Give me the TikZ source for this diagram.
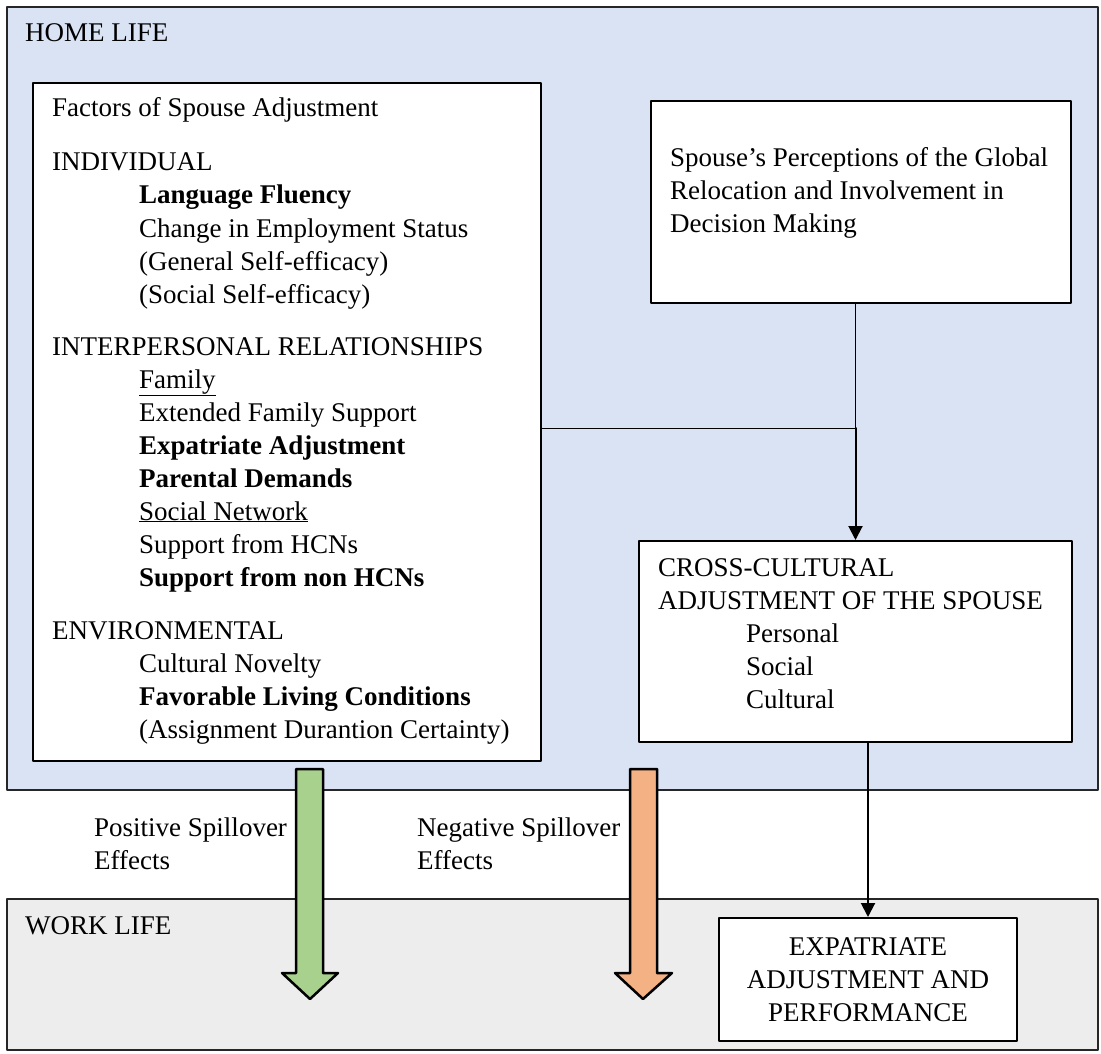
\documentclass[tikz,border=0pt]{standalone}
\usepackage{fontspec}
\setmainfont{Liberation Serif}
\usetikzlibrary{arrows.meta}
\definecolor{homeblue}{HTML}{DAE3F3}
\definecolor{workgray}{HTML}{EDEDED}
\definecolor{posgreen}{HTML}{A9D18E}
\definecolor{negorange}{HTML}{F4B183}

\begin{document}
\begin{tikzpicture}[x=1pt,y=-1pt,line cap=round,line join=round,
	>={Triangle[width=14pt,length=14pt]},
	font=\fontsize{27}{33}\selectfont,
	box/.style={draw,line width=2pt,fill=white,anchor=north west,inner sep=0pt},
	txt/.style={anchor=base west,inner sep=0pt},
	bigarrow/.style={draw,line width=2.5pt}]
	\useasboundingbox (0,0) rectangle (1101,1054);
	% home and work areas
	\path[fill=homeblue,draw=black!85,line width=1.5pt] (7,7) rectangle (1098,790);
	\path[fill=workgray,draw=black!85,line width=1.5pt] (7,899) rectangle (1098,1050);
	\node[txt] (home) at (25,42) {HOME LIFE};
	\node[txt] (work) at (25,934) {WORK LIFE};
	% boxes
	\node[box,minimum width=508,minimum height=678] (factors) at (32,82) {};
	\node[box,minimum width=420,minimum height=202] (persp) at (650,100) {};
	\node[box,minimum width=433,minimum height=201] (cross) at (638,540) {};
	\node[box,minimum width=298,minimum height=123] (expat) at (718,917) {};
	% factors text
	\node[txt] (f0) at (52,117) {Factors of Spouse Adjustment};
	\node[txt] (f1) at (52,171) {INDIVIDUAL};
	\node[txt] (f2) at (139,204) {\textbf{Language Fluency}};
	\node[txt] (f3) at (139,237) {Change in Employment Status};
	\node[txt] (f4) at (139,270) {(General Self-efficacy)};
	\node[txt] (f5) at (139,303) {(Social Self-efficacy)};
	\node[txt] (f6) at (52,355) {INTERPERSONAL RELATIONSHIPS};
	\node[txt] (f7) at (139,388) {\underline{Family}};
	\node[txt] (f8) at (139,421) {Extended Family Support};
	\node[txt] (f9) at (139,454) {\textbf{Expatriate Adjustment}};
	\node[txt] (f10) at (139,487) {\textbf{Parental Demands}};
	\node[txt] (f11) at (139,520) {\underline{Social Network}};
	\node[txt] (f12) at (139,553) {Support from HCNs};
	\node[txt] (f13) at (139,586) {\textbf{Support from non HCNs}};
	\node[txt] (f14) at (52,639) {ENVIRONMENTAL};
	\node[txt] (f15) at (139,672) {Cultural Novelty};
	\node[txt] (f16) at (139,705) {\textbf{Favorable Living Conditions}};
	\node[txt] (f17) at (139,738) {(Assignment Durantion Certainty)};
	% perception text
	\node[txt] (p1) at (670,167) {Spouse’s Perceptions of the Global};
	\node[txt] (p2) at (670,200) {Relocation and Involvement in};
	\node[txt] (p3) at (670,233) {Decision Making};
	% cross-cultural text
	\node[txt] (c1) at (658,576) {CROSS-CULTURAL};
	\node[txt] (c2) at (658,609) {ADJUSTMENT OF THE SPOUSE};
	\node[txt] (c3) at (746,642) {Personal};
	\node[txt] (c4) at (746,675) {Social};
	\node[txt] (c5) at (746,708) {Cultural};
	% outcome text
	\node[align=center,inner sep=0pt] (e1) at (expat.center) {EXPATRIATE\\ADJUSTMENT AND\\PERFORMANCE};
	% spillover arrows
	\path[bigarrow,fill=posgreen] (296,769) -- (323,769) -- (323,973) -- (338,973) -- (310,999)
		-- (282,973) -- (296,973) -- cycle;
	\path[bigarrow,fill=negorange] (630,769) -- (657,769) -- (657,973) -- (672,973) -- (643,999)
		-- (615,973) -- (630,973) -- cycle;
	\node[anchor=north west,align=left,inner sep=0pt] (pos) at (94,818) {Positive Spillover\\Effects};
	\node[anchor=north west,align=left,inner sep=0pt] (neg) at (417,818) {Negative Spillover\\Effects};
	% connectors
	\coordinate (join) at (cross.north |- 0,428);
	\draw[line width=1pt] (factors.east |- join) -- (join);
	\draw[line width=1pt] (persp.south -| join) -- (join);
	\draw[->,line width=2pt] (join) -- (cross.north);
	\draw[->,line width=2pt] (cross.south -| expat.north) -- (expat.north);
\end{tikzpicture}
\end{document}
